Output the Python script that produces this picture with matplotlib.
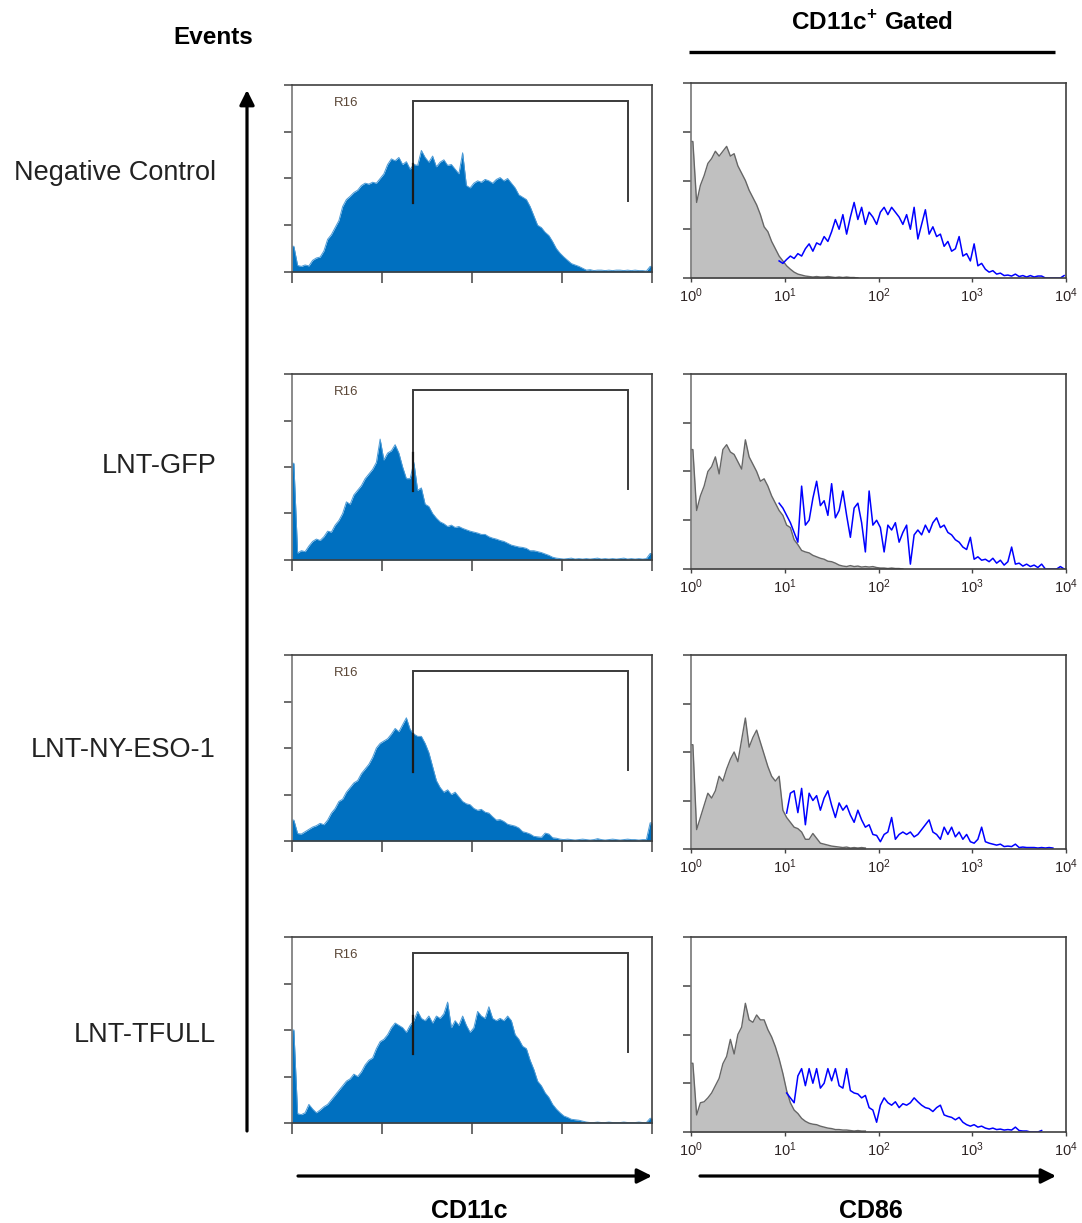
import numpy as np
import matplotlib
matplotlib.use("Agg")
import matplotlib.pyplot as plt
from matplotlib.ticker import NullLocator

plt.rcParams["font.family"] = ["Liberation Sans", "DejaVu Sans"]
plt.rcParams["mathtext.fontset"] = "custom"
plt.rcParams["mathtext.rm"] = "Liberation Sans"
plt.rcParams["mathtext.bf"] = "Liberation Sans:bold"

# ---------------------------------------------------------------- data
conditions = ["Negative Control", "LNT-GFP", "LNT-NY-ESO-1", "LNT-TFULL"]

# CD11c histograms: 96 channels over a 0..1024 linear scale
CD11C_RANGE = (0, 1024)
cd11c_neg = [0.55, 0.14, 0.12, 0.15, 0.13, 0.25, 0.30, 0.32, 0.45, 0.70,
             0.80, 0.95, 1.10, 1.40, 1.55, 1.62, 1.70, 1.75, 1.85, 1.90,
             1.88, 1.92, 1.90, 2.00, 2.10, 2.30, 2.42, 2.38, 2.45, 2.30,
             2.36, 2.20, 2.30, 2.28, 2.60, 2.45, 2.35, 2.48, 2.25, 2.35,
             2.40, 2.28, 2.30, 2.20, 2.10, 2.55, 1.85, 1.80, 1.90, 1.95,
             1.92, 1.98, 1.95, 1.90, 1.98, 2.02, 1.95, 2.00, 1.90, 1.80,
             1.65, 1.60, 1.55, 1.40, 1.20, 1.00, 0.95, 0.85, 0.78, 0.65,
             0.50, 0.40, 0.32, 0.25, 0.18, 0.15, 0.12, 0.08, 0.04, 0.05,
             0.03, 0.04, 0.04, 0.03, 0.04, 0.03, 0.04, 0.04, 0.03, 0.04,
             0.03, 0.04, 0.03, 0.03, 0.02, 0.12]
cd11c_gfp = [2.08, 0.15, 0.20, 0.18, 0.30, 0.40, 0.45, 0.42, 0.50, 0.62,
             0.60, 0.75, 0.85, 1.00, 1.25, 1.20, 1.40, 1.50, 1.60, 1.75,
             1.85, 1.95, 2.10, 2.60, 2.15, 2.30, 2.35, 2.48, 2.30, 2.00,
             1.75, 1.75, 2.10, 1.50, 1.55, 1.20, 1.15, 1.00, 0.90, 0.82,
             0.78, 0.72, 0.75, 0.70, 0.72, 0.68, 0.65, 0.62, 0.60, 0.58,
             0.55, 0.55, 0.50, 0.47, 0.45, 0.42, 0.40, 0.36, 0.32, 0.30,
             0.28, 0.27, 0.25, 0.20, 0.20, 0.18, 0.16, 0.13, 0.10, 0.06,
             0.04, 0.03, 0.02, 0.03, 0.04, 0.02, 0.03, 0.02, 0.03, 0.02,
             0.03, 0.04, 0.02, 0.03, 0.02, 0.03, 0.02, 0.03, 0.04, 0.02,
             0.03, 0.02, 0.03, 0.02, 0.03, 0.14]
cd11c_nyeso = [0.45, 0.16, 0.15, 0.20, 0.25, 0.30, 0.33, 0.38, 0.35, 0.45,
               0.60, 0.70, 0.85, 0.90, 1.05, 1.15, 1.25, 1.30, 1.45, 1.55,
               1.65, 1.80, 2.00, 2.10, 2.15, 2.20, 2.30, 2.42, 2.35, 2.50,
               2.65, 2.40, 2.30, 2.25, 2.25, 2.10, 1.90, 1.60, 1.30, 1.15,
               1.05, 1.10, 1.00, 1.05, 0.95, 0.85, 0.80, 0.78, 0.70, 0.66,
               0.68, 0.62, 0.60, 0.52, 0.45, 0.46, 0.42, 0.36, 0.34, 0.32,
               0.28, 0.20, 0.18, 0.15, 0.10, 0.09, 0.08, 0.17, 0.15, 0.07,
               0.06, 0.04, 0.03, 0.04, 0.03, 0.02, 0.03, 0.04, 0.03, 0.02,
               0.03, 0.05, 0.03, 0.02, 0.03, 0.04, 0.03, 0.02, 0.03, 0.04,
               0.03, 0.03, 0.02, 0.03, 0.03, 0.39]
cd11c_tfull = [2.00, 0.20, 0.18, 0.22, 0.40, 0.30, 0.22, 0.28, 0.35, 0.40,
               0.50, 0.60, 0.70, 0.80, 0.90, 0.95, 1.05, 1.00, 1.10, 1.25,
               1.35, 1.40, 1.60, 1.75, 1.80, 1.90, 2.05, 2.15, 2.10, 2.05,
               1.95, 2.10, 2.20, 2.40, 2.25, 2.20, 2.30, 2.15, 2.30, 2.25,
               2.35, 2.60, 2.05, 2.20, 2.10, 2.30, 2.10, 1.95, 2.05, 2.40,
               2.30, 2.25, 2.50, 2.25, 2.20, 2.25, 2.20, 2.30, 2.20, 1.90,
               1.80, 1.65, 1.60, 1.35, 1.15, 0.90, 0.80, 0.65, 0.55, 0.40,
               0.30, 0.22, 0.15, 0.12, 0.08, 0.07, 0.06, 0.04, 0.02, 0.01,
               0.01, 0.02, 0.01, 0.01, 0.02, 0.01, 0.01, 0.01, 0.02, 0.01,
               0.01, 0.01, 0.02, 0.01, 0.01, 0.10]

# R16 gate on CD11c (channel limits and bracket heights)
gate_r16 = (344, 956)
gate_top = 3.65
gate_left_foot = 1.48
gate_right_foot = 1.52

# CD86 histograms: log bins of 0.04 decade starting at 10^0
CD86_BIN_DECADES = 0.04
cd86_ctrl_neg = [2.80, 1.55, 1.90, 2.10, 2.35, 2.45, 2.60, 2.50, 2.60, 2.70,
                 2.50, 2.55, 2.30, 2.15, 2.00, 1.80, 1.65, 1.50, 1.30, 1.05,
                 0.95, 0.75, 0.60, 0.45, 0.35, 0.25, 0.18, 0.12, 0.08, 0.06,
                 0.04, 0.03, 0.02, 0.03, 0.02, 0.02, 0.03, 0.02, 0.01, 0.02,
                 0.01, 0.02, 0.01, 0.01, 0.00]
cd86_ctrl_gfp = [2.45, 1.20, 1.50, 1.70, 2.00, 2.10, 2.30, 1.95, 2.45, 2.55,
                 2.40, 2.35, 2.20, 2.05, 2.65, 2.30, 2.15, 2.00, 1.80, 1.85,
                 1.70, 1.50, 1.35, 1.20, 1.10, 0.90, 0.85, 0.60, 0.50, 0.38,
                 0.35, 0.33, 0.28, 0.25, 0.22, 0.20, 0.16, 0.15, 0.12, 0.08,
                 0.06, 0.05, 0.07, 0.05, 0.06, 0.04, 0.05, 0.04, 0.05, 0.03,
                 0.02, 0.02, 0.01, 0.02, 0.01, 0.01, 0.00]
cd86_ctrl_nyeso = [2.15, 0.40, 0.65, 0.90, 1.15, 1.05, 1.20, 1.50, 1.40, 1.65,
                   1.85, 2.00, 1.80, 2.25, 2.70, 2.10, 2.30, 2.45, 2.20, 1.95,
                   1.70, 1.50, 1.40, 1.50, 0.80, 0.65, 0.55, 0.45, 0.42, 0.35,
                   0.20, 0.20, 0.32, 0.22, 0.12, 0.10, 0.08, 0.06, 0.05, 0.04,
                   0.03, 0.04, 0.02, 0.03, 0.02, 0.03, 0.02]
cd86_ctrl_tfull = [1.41, 0.35, 0.60, 0.62, 0.70, 0.80, 0.95, 1.10, 1.40, 1.55,
                   1.90, 1.60, 2.00, 2.15, 2.64, 2.30, 2.25, 2.40, 2.30, 2.30,
                   2.10, 1.95, 1.75, 1.50, 1.20, 0.85, 0.60, 0.45, 0.38, 0.28,
                   0.22, 0.18, 0.16, 0.15, 0.12, 0.10, 0.08, 0.07, 0.05, 0.05,
                   0.04, 0.04, 0.03, 0.02, 0.03, 0.02, 0.02]

# CD86-stained traces and the bin index each one starts at
cd86_stain_neg_start = 23
cd86_stain_neg = [0.35, 0.30, 0.38, 0.45, 0.40, 0.50, 0.45, 0.60, 0.70, 0.55,
                  0.72, 0.68, 0.85, 0.75, 0.95, 1.20, 1.00, 1.30, 0.90, 1.25,
                  1.55, 1.20, 1.45, 1.10, 1.35, 1.25, 1.10, 1.35, 1.45, 1.30,
                  1.45, 1.35, 1.25, 1.10, 1.30, 1.00, 1.45, 0.80, 1.10, 1.40,
                  0.90, 1.05, 0.85, 0.90, 0.65, 0.75, 0.55, 0.60, 0.85, 0.45,
                  0.50, 0.35, 0.70, 0.25, 0.30, 0.18, 0.12, 0.15, 0.08, 0.10,
                  0.05, 0.06, 0.04, 0.08, 0.03, 0.05, 0.02, 0.05, 0.02, 0.04,
                  0.04, 0.00, 0.00, 0.00, 0.00, 0.00, 0.05]
cd86_stain_gfp_start = 23
cd86_stain_gfp = [1.35, 1.25, 1.10, 0.95, 0.75, 0.55, 1.70, 0.90, 1.00, 1.45,
                  1.80, 1.30, 1.40, 1.10, 1.75, 1.05, 1.20, 1.60, 1.10, 0.65,
                  1.25, 1.35, 0.95, 0.35, 1.60, 0.90, 1.00, 0.85, 0.35, 0.90,
                  0.80, 0.95, 0.55, 0.75, 0.90, 0.10, 0.70, 0.80, 0.70, 0.90,
                  0.75, 0.95, 1.05, 0.85, 0.90, 0.75, 0.70, 0.60, 0.55, 0.45,
                  0.40, 0.65, 0.20, 0.25, 0.18, 0.20, 0.15, 0.22, 0.12, 0.18,
                  0.08, 0.15, 0.45, 0.10, 0.12, 0.06, 0.10, 0.05, 0.08, 0.03,
                  0.10, 0.00, 0.00, 0.00, 0.00, 0.05, 0.00]
cd86_stain_nyeso_start = 25
cd86_stain_nyeso = [0.74, 1.15, 1.20, 0.75, 1.25, 0.50, 1.15, 1.00, 1.10, 0.80,
                    1.05, 1.20, 0.90, 0.65, 0.95, 0.80, 0.90, 0.70, 0.55, 0.80,
                    0.60, 0.45, 0.50, 0.30, 0.28, 0.15, 0.30, 0.35, 0.65, 0.20,
                    0.30, 0.35, 0.30, 0.35, 0.25, 0.30, 0.40, 0.50, 0.60, 0.35,
                    0.30, 0.20, 0.45, 0.30, 0.45, 0.25, 0.35, 0.20, 0.30, 0.15,
                    0.12, 0.20, 0.45, 0.15, 0.12, 0.10, 0.08, 0.10, 0.05, 0.06,
                    0.05, 0.10, 0.03, 0.04, 0.03, 0.03, 0.03, 0.02, 0.03, 0.02,
                    0.03, 0.02]
cd86_stain_tfull_start = 25
cd86_stain_tfull = [0.80, 0.70, 0.60, 1.15, 1.30, 0.95, 1.30, 1.00, 1.30, 0.90,
                    1.00, 1.30, 1.05, 1.30, 0.95, 0.90, 1.30, 0.85, 0.80, 0.78,
                    0.70, 0.75, 0.50, 0.45, 0.20, 0.55, 0.70, 0.60, 0.55, 0.62,
                    0.50, 0.58, 0.55, 0.60, 0.70, 0.62, 0.55, 0.50, 0.48, 0.42,
                    0.50, 0.55, 0.35, 0.32, 0.30, 0.25, 0.30, 0.20, 0.15, 0.12,
                    0.15, 0.10, 0.12, 0.08, 0.06, 0.08, 0.05, 0.06, 0.04, 0.05,
                    0.04, 0.10, 0.03, 0.02, 0.02, 0.00, 0.00, 0.00, 0.03]

cd11c_sets = [cd11c_neg, cd11c_gfp, cd11c_nyeso, cd11c_tfull]
ctrl_sets = [cd86_ctrl_neg, cd86_ctrl_gfp, cd86_ctrl_nyeso, cd86_ctrl_tfull]
stain_sets = [(cd86_stain_neg_start, cd86_stain_neg),
              (cd86_stain_gfp_start, cd86_stain_gfp),
              (cd86_stain_nyeso_start, cd86_stain_nyeso),
              (cd86_stain_tfull_start, cd86_stain_tfull)]

decade_ticks = [1, 10, 100, 1000, 10000]
decade_labels = [r"$\mathregular{10^{%d}}$" % k for k in range(5)]

# ---------------------------------------------------------------- layout
W, H = 1082, 1223
fig = plt.figure(figsize=(W / 100, H / 100), dpi=100)

left_x, left_w = 292, 360
right_x, right_w = 691, 375
left_rows = [(85, 272), (374, 560), (655, 841), (937, 1123)]
right_rows = [(83, 278), (374, 569), (655, 849), (937, 1132)]

FRAME = "#3f3f3f"
HIST_BLUE = "#0070C0"
HIST_EDGE = "#4b9ad6"
CTRL_FILL = "#c0c0c0"
CTRL_EDGE = "#666666"
STAIN = "#0000ff"


def px_axes(x, w, top, bottom):
    return fig.add_axes([x / W, 1 - bottom / H, w / W, (bottom - top) / H])


def style_frame(ax):
    for s in ax.spines.values():
        s.set_color(FRAME)
        s.set_linewidth(1.2)
    ax.spines["left"].set_color("#777777")
    ax.set_ylim(0, 4)
    ax.set_yticks([0, 1, 2, 3, 4])
    ax.set_yticklabels([])
    ax.tick_params(axis="y", direction="out", length=6, width=1.1,
                   color="#444444")


def channel_trace(vals, edges):
    """Trace through channel centres, held flat to the outer edges."""
    centres = 0.5 * (edges[:-1] + edges[1:])
    x = np.concatenate([[edges[0]], centres, [edges[-1]]])
    y = np.concatenate([[vals[0]], vals, [vals[-1]]])
    return x, y


def log_centres(start, n):
    return 10 ** (CD86_BIN_DECADES * (np.arange(start, start + n) + 0.5))


for r in range(4):
    # CD11c panel
    top, bot = left_rows[r]
    ax = px_axes(left_x, left_w, top, bot)
    vals = np.asarray(cd11c_sets[r])
    edges = np.linspace(CD11C_RANGE[0], CD11C_RANGE[1], len(vals) + 1)
    x, y = channel_trace(vals, edges)
    ax.fill_between(x, 0, y, color=HIST_BLUE, lw=0)
    ax.plot(x, y, color=HIST_EDGE, lw=0.7)
    ax.set_xlim(*CD11C_RANGE)
    ax.set_xticks(np.linspace(CD11C_RANGE[0], CD11C_RANGE[1], 5))
    ax.set_xticklabels([])
    ax.tick_params(axis="x", direction="out", length=8, width=1.1,
                   color="#444444")
    style_frame(ax)
    g0, g1 = gate_r16
    ax.plot([g0, g0, g1, g1],
            [gate_left_foot, gate_top, gate_top, gate_right_foot],
            color="#3a3a3a", lw=1.4, solid_joinstyle="miter")
    ax.plot([g0, g0], [gate_left_foot, 2.3], color="#1a1a1a", lw=1.6)
    ax.text(0.115, 0.905, "R16", transform=ax.transAxes, fontsize=9.5,
            color="#5a4636", va="center", ha="left")

    # CD86 panel
    top, bot = right_rows[r]
    ax2 = px_axes(right_x, right_w, top, bot)
    ax2.set_xscale("log")
    ctrl = np.asarray(ctrl_sets[r])
    cx = log_centres(0, len(ctrl))
    cx = np.concatenate([[1.0], cx])
    cy = np.concatenate([[ctrl[0]], ctrl])
    ax2.fill_between(cx, 0, cy, color=CTRL_FILL, lw=0)
    ax2.plot(cx, cy, color=CTRL_EDGE, lw=1.0)
    start, stain = stain_sets[r]
    stain = np.asarray(stain)
    ax2.plot(log_centres(start, len(stain)), stain, color=STAIN, lw=1.1)
    ax2.set_xlim(1, 1e4)
    ax2.set_xticks(decade_ticks)
    ax2.set_xticklabels(decade_labels)
    ax2.xaxis.set_minor_locator(NullLocator())
    ax2.tick_params(axis="x", direction="out", length=3, width=1.0,
                    color="#444444", labelsize=10.5, labelcolor="#2e2424",
                    pad=3)
    style_frame(ax2)

# ---------------------------------------------------------------- annotations
ov = fig.add_axes([0, 0, 1, 1])
ov.set_xlim(0, W)
ov.set_ylim(H, 0)
ov.axis("off")
ov.patch.set_alpha(0)

label_y = [173, 466, 750, 1035]
for name, y in zip(conditions, label_y):
    ov.text(216, y, name, ha="right", va="center", fontsize=19.5,
            color="#222222")

ov.text(213, 37, "Events", ha="center", va="center", fontsize=17.5,
        fontweight="bold")
ov.text(872, 23, r"CD11c$^{\mathbf{+}}$ Gated", ha="center", va="center",
        fontsize=17.5, fontweight="bold")
ov.plot([689, 1055], [52, 52], color="black", lw=2.4, solid_capstyle="butt")

arrow_kw = dict(arrowstyle="-|>", lw=2.3, color="black", mutation_scale=22,
                shrinkA=0, shrinkB=0)
ov.annotate("", xy=(247, 90), xytext=(247, 1131), arrowprops=arrow_kw)
ov.annotate("", xy=(652, 1176), xytext=(298, 1176), arrowprops=arrow_kw)
ov.annotate("", xy=(1056, 1176), xytext=(700, 1176), arrowprops=arrow_kw)

ov.text(469, 1211, "CD11c", ha="center", va="center", fontsize=18,
        fontweight="bold")
ov.text(871, 1211, "CD86", ha="center", va="center", fontsize=18,
        fontweight="bold")

fig.savefig("out.png", dpi=100)
